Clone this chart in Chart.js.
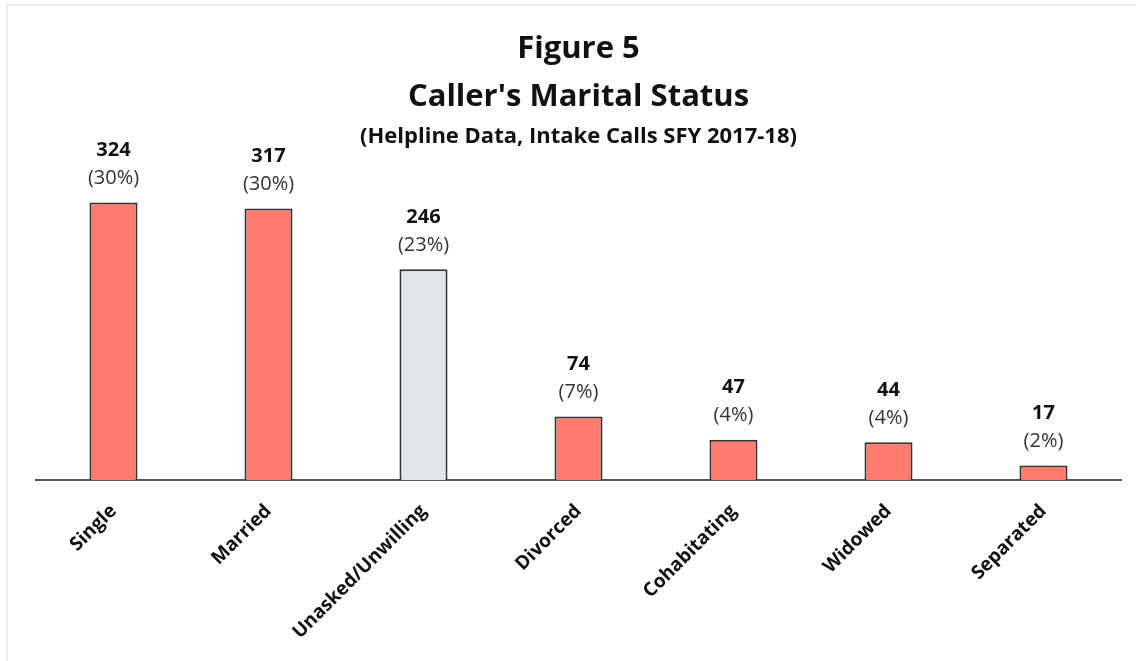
<!DOCTYPE html>
<html>
<head>
<meta charset="utf-8">
<script src="https://cdn.jsdelivr.net/npm/chart.js@4/dist/chart.umd.min.js"></script>
<style>
  html, body { margin: 0; padding: 0; background: #fff; }
  #wrap { position: relative; width: 1136px; height: 661px; }
  #frame { position: absolute; left: 6px; top: 4px; right: 0; bottom: 0;
    border-left: 2px solid #ebebeb; border-top: 2px solid #ebebeb; }
  canvas { position: absolute; left: 0; top: 0; }
</style>
</head>
<body>
<div id="wrap">
  <div id="frame"></div>
  <canvas id="chartOne" width="1136" height="661"></canvas>
</div>
<script>
var categories = ['Single', 'Married', 'Unasked/Unwilling', 'Divorced', 'Cohabitating', 'Widowed', 'Separated']
var counts = [324, 317, 246, 74, 47, 44, 17]
var percents = ['30%', '30%', '23%', '7%', '4%', '4%', '2%']
var barColors = ['#ff7b6e', '#ff7b6e', '#e3e6e8', '#ff7b6e', '#ff7b6e', '#ff7b6e', '#ff7b6e']

var fontFamily = '"Open Sans", Lato, sans-serif'

// number + (percent) above each bar
const barLabels = {
  id: 'barLabels',
  afterDatasetsDraw(chart) {
    var ctx = chart.ctx
    var meta = chart.getDatasetMeta(0)
    ctx.save()
    ctx.textAlign = 'center'
    ctx.textBaseline = 'middle'
    for (var i = 0; i < meta.data.length; i++) {
      var bar = meta.data[i]
      ctx.fillStyle = '#111'
      ctx.font = 'bold 20px ' + fontFamily
      ctx.fillText(counts[i], bar.x, bar.y - 52)
      ctx.fillStyle = '#333'
      ctx.font = '20px ' + fontFamily
      ctx.fillText('(' + percents[i] + ')', bar.x, bar.y - 24)
    }
    ctx.restore()
  }
}

const data = {
  labels: categories,
  datasets: [{
    data: counts,
    backgroundColor: barColors,
    borderColor: '#333',
    borderWidth: 2,
    categoryPercentage: 1,
    barPercentage: 0.31
  }]
}

const config = {
  type: 'bar',
  data: data,
  options: {
    responsive: false,
    animation: false,
    layout: { padding: { left: 36, right: 15, top: 0, bottom: 0 } },
    plugins: {
      legend: { display: false },
      tooltip: { enabled: false },
      title: {
        display: true,
        text: ['Figure 5', "Caller's Marital Status"],
        color: '#111',
        font: { family: fontFamily, size: 31, weight: 'bold', lineHeight: 1.52 },
        padding: { top: 26, bottom: 0 }
      },
      subtitle: {
        display: true,
        text: '(Helpline Data, Intake Calls SFY 2017-18)',
        color: '#111',
        font: { family: fontFamily, size: 22, weight: 'bold', lineHeight: 1.2 },
        padding: { top: 3, bottom: 10 }
      }
    },
    scales: {
      x: {
        grid: { display: false },
        border: { display: true, color: '#555', width: 2 },
        ticks: {
          color: '#111',
          font: { family: fontFamily, size: 19, weight: 'bold' },
          minRotation: 45,
          maxRotation: 45,
          padding: 12
        },
        afterFit: function (scale) { scale.height = 181 }
      },
      y: {
        display: false,
        min: 0,
        max: 374
      }
    }
  },
  plugins: [barLabels]
}

new Chart(document.getElementById('chartOne'), config)
</script>
</body>
</html>
